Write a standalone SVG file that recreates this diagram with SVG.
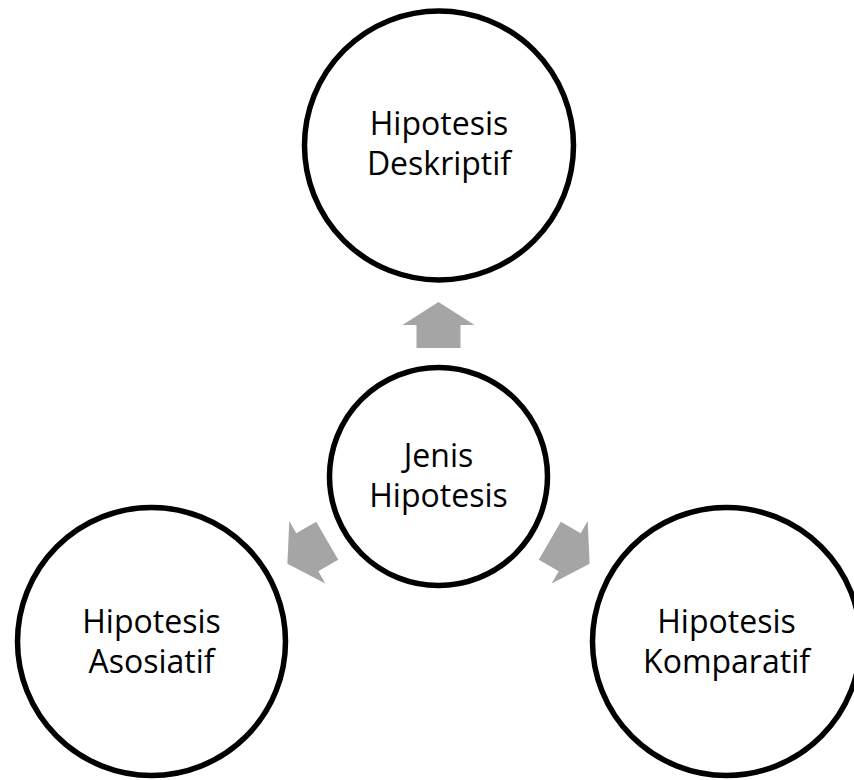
<svg xmlns="http://www.w3.org/2000/svg" width="854" height="780" viewBox="0 0 854 780">
  <defs>
    <style>
      .node { fill: #ffffff; stroke: #000000; stroke-width: 5.5; }
      .label { font-family: "Open Sans", "Liberation Sans", sans-serif; font-size: 32px; fill: #000000; text-anchor: middle; }
      .arrow { fill: #A5A5A5; }
    </style>
    <!-- block arrow pointing up, tip at origin -->
    <polygon id="blockArrow" class="arrow" points="0,0 36,23 22,23 22,46 -22,46 -22,23 -36,23"/>
  </defs>
  <rect width="854" height="780" fill="#ffffff"/>

  <g id="connectors">
    <use href="#blockArrow" transform="translate(438.5 476.5) rotate(0) translate(0 -174.5)"/>
    <use href="#blockArrow" transform="translate(438.5 476.5) rotate(-120) translate(0 -174.5)"/>
    <use href="#blockArrow" transform="translate(438.5 476.5) rotate(120) translate(0 -174.5)"/>
  </g>

  <g id="node-deskriptif">
    <circle class="node" cx="439" cy="145.5" r="134.5"/>
    <text class="label" x="439" y="135">Hipotesis</text>
    <text class="label" x="439" y="175">Deskriptif</text>
  </g>

  <g id="node-jenis">
    <circle class="node" cx="438.5" cy="476.5" r="109"/>
    <text class="label" x="438.5" y="467">Jenis</text>
    <text class="label" x="438.5" y="507">Hipotesis</text>
  </g>

  <g id="node-asosiatif">
    <circle class="node" cx="151.5" cy="641.5" r="134"/>
    <text class="label" x="151.5" y="633">Hipotesis</text>
    <text class="label" x="151.5" y="673">Asosiatif</text>
  </g>

  <g id="node-komparatif">
    <circle class="node" cx="726.5" cy="641.5" r="134"/>
    <text class="label" x="726.5" y="633">Hipotesis</text>
    <text class="label" x="726.5" y="673">Komparatif</text>
  </g>
</svg>
